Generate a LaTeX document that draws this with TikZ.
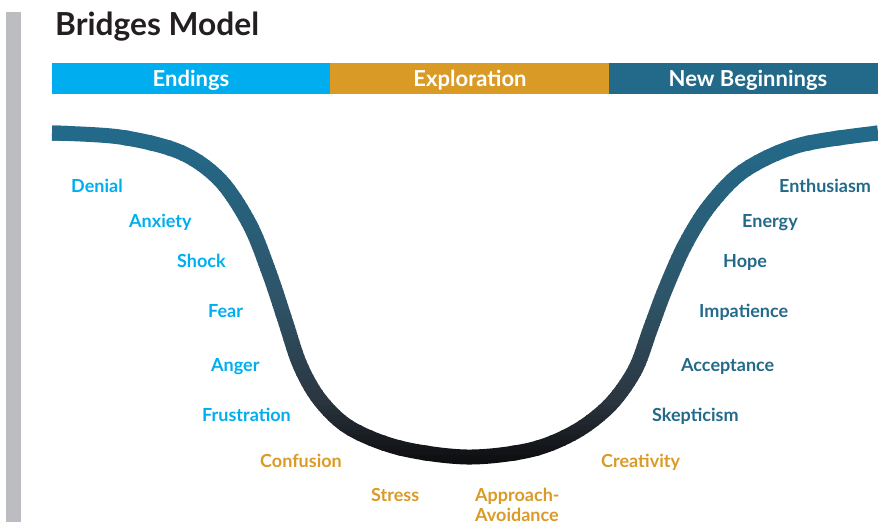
\documentclass[tikz,border=0pt]{standalone}
\usepackage{fontspec}
\setmainfont{Lato}
\definecolor{endc}{HTML}{00AEEF}
\definecolor{expc}{HTML}{DA9A26}
\definecolor{newc}{HTML}{236A8A}
\definecolor{graybar}{HTML}{BCBDC1}
\definecolor{titlec}{HTML}{231F20}
\definecolor{cA}{HTML}{236A8A}
\definecolor{cB}{HTML}{2E5468}
\definecolor{cC}{HTML}{2B3640}
\definecolor{cD}{HTML}{0E0E10}
\begin{document}
\begin{tikzpicture}[x=1pt,y=-1pt,
  lab/.style={anchor=base west, inner sep=0pt, font=\fontsize{18}{21}\selectfont\bfseries},
  barbox/.style={anchor=north west, inner sep=0pt, minimum height=31pt},
  bartext/.style={anchor=base, inner sep=0pt, text=white, font=\fontsize{22}{25}\selectfont\bfseries}]
\useasboundingbox (0,0) rectangle (878,522);
\fill[graybar] (6,12) rectangle (21,522);
\node[anchor=base west, inner sep=0pt, text=titlec, font=\fontsize{31.7}{36}\selectfont\bfseries] (title) at (55,35) {Bridges Model};
% phase bars
\node[barbox, fill=endc, minimum width=278pt] (b1) at (52,63) {};
\node[barbox, fill=expc, minimum width=279pt] (b2) at (330,63) {};
\node[barbox, fill=newc, minimum width=269pt] (b3) at (609,63) {};
\node[bartext] (t1) at (191,86) {Endings};
\node[bartext] (t2) at (470,86) {Exploration};
\node[bartext] (t3) at (748,86) {New Beginnings};
% gradient curve
\def\curvepath{plot[smooth,tension=0.55] coordinates {(52,133) (120,137) (180,152) (220,180) (250,225) (270,275) (285,320) (300,365) (320,400) (350,428) (400,448) (467,457) (530,450) (575,432) (610,405) (635,370) (650,330) (665,290) (685,245) (710,205) (745,170) (800,145) (878,133)}}
\foreach \i in {0,...,71}{
  \pgfmathsetmacro{\ya}{115+\i*5}
  \pgfmathsetmacro{\yb}{\ya+5.6}
  \pgfmathsetmacro{\yc}{\ya+2.5}
  \ifdim\yc pt<300pt
    \pgfmathsetmacro{\p}{max(0,(\yc-133)/167*100)}\colorlet{cc}{cB!\p!cA}
  \else\ifdim\yc pt<400pt
    \pgfmathsetmacro{\p}{\yc-300}\colorlet{cc}{cC!\p!cB}
  \else
    \pgfmathsetmacro{\p}{min(100,(\yc-400)/60*100)}\colorlet{cc}{cD!\p!cC}
  \fi\fi
  \begin{scope}
    \clip (0,\ya) rectangle (878,\yb);
    \draw[line width=15pt, color=cc] \curvepath;
  \end{scope}
}
% labels
\node[lab, text=endc] (l1) at (71,192) {Denial};
\node[lab, text=endc] (l2) at (129,227) {Anxiety};
\node[lab, text=endc] (l3) at (177,267) {Shock};
\node[lab, text=endc] (l4) at (208,317) {Fear};
\node[lab, text=endc] (l5) at (211,371) {Anger};
\node[lab, text=endc] (l6) at (202,421) {Frustration};
\node[lab, text=expc] (m1) at (260,467) {Confusion};
\node[lab, text=expc] (m2) at (371,501) {Stress};
\node[lab, text=expc] (m3) at (475,501) {Approach-};
\node[lab, text=expc] (m4) at (475,521) {Avoidance};
\node[lab, text=expc] (m5) at (601,467) {Creativity};
\node[lab, text=newc] (r1) at (652,421) {Skepticism};
\node[lab, text=newc] (r2) at (681,371) {Acceptance};
\node[lab, text=newc] (r3) at (699,317) {Impatience};
\node[lab, text=newc] (r4) at (723,267) {Hope};
\node[lab, text=newc] (r5) at (742,227) {Energy};
\node[lab, text=newc] (r6) at (779,192) {Enthusiasm};
\end{tikzpicture}
\end{document}
